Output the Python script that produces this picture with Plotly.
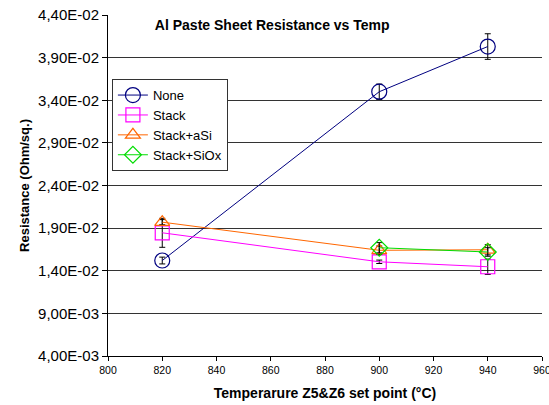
import plotly.graph_objects as go

temps = [820, 900, 940]
temps_siox = [900, 940]

none_vals = [0.0152, 0.0350, 0.0403]
none_err = [0.0004, 0.0009, 0.0015]

stack_vals = [0.01845, 0.01505, 0.01447]
stack_err = [0.0017, 0.0002, 0.0009]

asi_vals = [0.0197, 0.0164, 0.01646]
asi_err = [0.0003, 0.0005, 0.0006]

siox_vals = [0.0167, 0.0162]
siox_err = [0.0006, 0.0005]

y_tickvals = [0.004, 0.009, 0.014, 0.019, 0.024, 0.029, 0.034, 0.039, 0.044]
y_ticktext = ["4,00E-03", "9,00E-03", "1,40E-02", "1,90E-02", "2,40E-02",
              "2,90E-02", "3,40E-02", "3,90E-02", "4,40E-02"]

font_family = "Liberation Sans, Arial, sans-serif"


def err(vals):
    return dict(type="data", array=vals, visible=True, color="black",
                thickness=1, width=3)


fig = go.Figure()
fig.add_trace(go.Scatter(
    x=temps, y=none_vals, name="None", mode="lines+markers",
    line=dict(color="#000080", width=1),
    marker=dict(symbol="circle-open", size=15, color="#000080", line=dict(width=1.2)),
    error_y=err(none_err)))
fig.add_trace(go.Scatter(
    x=temps, y=stack_vals, name="Stack", mode="lines+markers",
    line=dict(color="#FF00FF", width=1),
    marker=dict(symbol="square-open", size=14, color="#FF00FF", line=dict(width=1.2)),
    error_y=err(stack_err)))
fig.add_trace(go.Scatter(
    x=temps, y=asi_vals, name="Stack+aSi", mode="lines+markers",
    line=dict(color="#FF6600", width=1),
    marker=dict(symbol="triangle-up-open", size=13, color="#FF6600", line=dict(width=1.2)),
    error_y=err(asi_err)))
fig.add_trace(go.Scatter(
    x=temps_siox, y=siox_vals, name="Stack+SiOx", mode="lines+markers",
    line=dict(color="#00DD00", width=1),
    marker=dict(symbol="diamond-open", size=13, color="#00DD00", line=dict(width=1.2)),
    error_y=err(siox_err)))

fig.update_layout(
    width=549, height=405,
    margin=dict(l=108, r=7, t=15, b=49),
    paper_bgcolor="white", plot_bgcolor="white",
    font=dict(family=font_family, color="black", size=12),
    title=dict(text="<b>Al Paste Sheet Resistance vs Temp</b>",
               x=0.108, xanchor="left", xref="paper",
               y=1 - 25 / 405, yanchor="middle", yref="container",
               font=dict(size=14, family=font_family, color="black")),
    showlegend=True,
    legend=dict(x=0.009, y=0.812, xanchor="left", yanchor="top",
                bgcolor="white", bordercolor="#333333", borderwidth=1,
                font=dict(size=13, family=font_family), tracegroupgap=0),
    xaxis=dict(range=[800, 960], dtick=20, tick0=800, automargin=False,
               showgrid=False, zeroline=False,
               showline=True, linecolor="black", linewidth=1,
               ticks="outside", ticklen=4, tickcolor="black",
               tickfont=dict(size=10.5, family=font_family, color="black"),
               ticklabeloverflow="allow",
               title=dict(text="<b>Temperarure Z5&Z6 set point (°C)</b>",
                          font=dict(size=14), standoff=13)),
    yaxis=dict(range=[0.004, 0.044], tickmode="array",
               tickvals=y_tickvals, ticktext=y_ticktext,
               automargin=False,
               showgrid=True, gridcolor="#333333", gridwidth=1, zeroline=False,
               showline=True, linecolor="black", linewidth=1,
               ticks="outside", ticklen=5, tickcolor="black",
               tickfont=dict(size=15, family=font_family, color="black"),
               title=dict(text="<b>Resistance (Ohm/sq.)</b>",
                          font=dict(size=13), standoff=5)),
)

fig.write_html("out.html")
